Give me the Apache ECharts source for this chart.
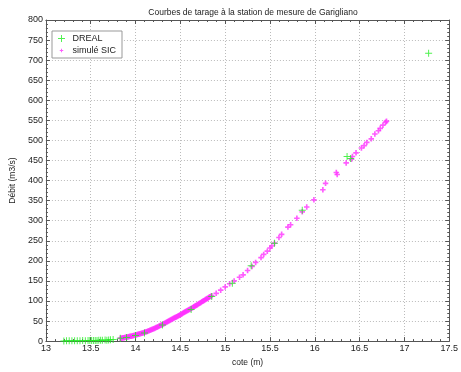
<!DOCTYPE html>
<html><head><meta charset="utf-8">
<script src="https://cdn.jsdelivr.net/npm/echarts@6/dist/echarts.min.js"></script>
<style>html,body{margin:0;padding:0;background:#fff}#c{width:461px;height:372px}</style>
</head><body><div id="c"></div>
<script>
const title = "Courbes de tarage à la station de mesure de Garigliano";
const xName = "cote (m)";
const yName = "Débit (m3/s)";
const seriesNames = ["DREAL", "simulé SIC"];

// DREAL measurements: cote (m), débit (m3/s)
const drealCote = [13.20,13.23,13.26,13.29,13.32,13.35,13.38,13.41,13.44,13.47,13.49,13.51,13.53,13.55,13.57,13.59,13.61,13.63,13.66,13.68,13.70,13.72,13.75,
  13.83,13.90,14.00,14.10,14.30,14.62,14.85,15.08,15.29,15.55,15.86,16.36,16.40,17.27];
const drealDebit = [0.5,0.6,0.8,0.7,1.0,0.9,1.1,1.2,1.0,1.4,1.3,1.5,1.6,1.4,1.8,1.9,2.0,2.2,2.5,2.4,3.0,3.4,4.0,
  7,9,14,20,40,79,111,144,188,244,326,460,455,717];

// simulé SIC: cote (m), débit (m3/s)
const sicCote = [13.83,13.84,13.85,13.86,13.87,13.88,13.89,13.90,13.91,13.92,13.93,13.94,13.95,13.96,13.97,13.98,13.99,
  14.00,14.01,14.02,14.03,14.04,14.05,14.06,14.07,14.08,14.09,14.10,14.11,14.12,14.13,14.14,14.15,14.16,14.17,14.18,14.19,
  14.20,14.21,14.22,14.23,14.24,14.25,14.26,14.27,14.28,14.29,14.30,14.31,14.32,14.33,14.34,14.35,14.36,14.37,14.38,14.39,
  14.40,14.41,14.42,14.43,14.44,14.45,14.46,14.47,14.48,14.49,14.50,14.51,14.52,14.53,14.54,14.55,14.56,14.57,14.58,14.59,
  14.60,14.61,14.62,14.63,14.64,14.65,14.66,14.67,14.68,14.69,14.70,14.71,14.72,14.73,14.74,14.75,14.76,14.77,14.78,14.79,
  14.80,14.81,14.82,14.83,14.84,14.85,
  14.90,14.95,15.00,15.05,15.10,15.16,15.20,15.25,15.30,15.34,15.40,15.43,15.47,15.50,15.52,15.55,15.60,15.63,15.70,15.73,15.80,15.86,
  15.91,15.99,16.09,16.12,16.24,16.25,16.35,16.41,16.42,16.46,16.52,16.55,16.58,16.63,16.67,16.71,16.73,16.76,16.79,16.80];
const sicDebit = [7.0,7.4,7.8,8.2,8.6,9.0,9.5,10.0,10.4,10.9,11.3,11.8,12.3,12.8,13.3,13.8,14.4,
  15.0,15.6,16.2,16.8,17.4,18.1,18.8,19.5,20.2,21.0,21.8,22.6,23.4,24.2,25.1,26.0,26.9,27.8,28.7,29.7,
  30.7,31.7,32.7,33.7,34.8,35.9,37.0,38.1,39.2,40.4,41.6,42.8,44.0,45.2,46.4,47.6,48.9,50.1,51.3,52.5,
  53.7,54.9,56.1,57.3,58.5,59.7,60.9,62.1,63.3,64.5,65.8,67.1,68.4,69.7,71.0,72.3,73.6,74.9,76.2,77.5,
  78.8,80.1,81.4,82.7,84.0,85.3,86.6,88.0,89.4,90.8,92.2,93.6,95.0,96.4,97.8,99.2,100.6,102.0,103.4,104.8,
  106.2,107.6,109.0,110.4,111.8,113.2,
  119,127,135,143,150,159,165,176,186,196,208,216,224,232,237,244,258,266,284,290,306,322,
  334,352,377,393,420,415,444,453,460,469,481,487,495,504,516,524,530,538,545,548];

const xTicks = {min: 13, max: 17.5, interval: 0.5};
const yTicks = {min: 0, max: 800, interval: 50};

const drealData = drealCote.map((x, i) => [x, drealDebit[i]]);
const sicData = sicCote.map((x, i) => [x, sicDebit[i]]);

const plus = 'path://M4.3,0H5.7V4.3H10V5.7H5.7V10H4.3V5.7H0V4.3H4.3Z';
const plusThick = 'path://M3.5,0H6.5V3.5H10V6.5H6.5V10H3.5V6.5H0V3.5H3.5Z';
const smallPlusIcon = 'path://M0,0H0.01V0.01Z M10,10H9.99V9.99Z M4.3,2.5H5.7V4.3H7.5V5.7H5.7V7.5H4.3V5.7H2.5V4.3H4.3Z';
const font = 'Liberation Sans, Arial, sans-serif';
const txt = '#222';
const green = '#22ee22';
const magenta = '#ff33ff';

const baseX = {
  type: 'value', min: xTicks.min, max: xTicks.max, interval: xTicks.interval,
  axisLine: {show: true, onZero: false, lineStyle: {color: '#555', width: 1}},
  axisTick: {show: true, inside: true, length: 4, lineStyle: {color: '#555'}},
  minorTick: {show: true, splitNumber: 5, length: 2, lineStyle: {color: '#555'}},
};
const baseY = {
  type: 'value', min: yTicks.min, max: yTicks.max, interval: yTicks.interval,
  axisLine: {show: true, onZero: false, lineStyle: {color: '#555', width: 1}},
  axisTick: {show: true, inside: true, length: 4, lineStyle: {color: '#555'}},
  minorTick: {show: true, splitNumber: 5, length: 2, lineStyle: {color: '#555'}},
};

const chart = echarts.init(document.getElementById('c'));
chart.setOption({
  animation: false,
  backgroundColor: '#fff',
  textStyle: {fontFamily: font},
  title: {text: title, left: 248, top: 3, textAlign: 'center',
    textStyle: {fontSize: 8.5, fontWeight: 'normal', color: txt, fontFamily: font}},
  grid: {left: 40, right: 5, top: 20, bottom: 21, containLabel: false},
  legend: {
    orient: 'vertical', left: 52, top: 31, itemGap: 3, itemWidth: 12, itemHeight: 7,
    backgroundColor: '#fff', borderColor: '#999', borderWidth: 1, padding: [3, 6, 3, 6],
    textStyle: {fontSize: 9, color: txt, fontFamily: font},
    data: [
      {name: seriesNames[0], icon: plus},
      {name: seriesNames[1], icon: smallPlusIcon}
    ]
  },
  xAxis: [
    Object.assign({}, baseX, {
      position: 'bottom', name: xName, nameLocation: 'middle', nameGap: 10,
      nameTextStyle: {fontSize: 8.5, color: txt, fontFamily: font},
      axisLabel: {fontSize: 9, color: txt, margin: 3, fontFamily: font},
      splitLine: {show: true, lineStyle: {color: '#bbb', type: [1, 2], width: 1}}
    }),
    Object.assign({}, baseX, {position: 'top', axisLabel: {show: false}, splitLine: {show: false}})
  ],
  yAxis: [
    Object.assign({}, baseY, {
      position: 'left', name: yName, nameLocation: 'middle', nameGap: 24,
      nameTextStyle: {fontSize: 8.5, color: txt, fontFamily: font},
      axisLabel: {fontSize: 9, color: txt, margin: 3, fontFamily: font},
      splitLine: {show: true, lineStyle: {color: '#bbb', type: [1, 2], width: 1}}
    }),
    Object.assign({}, baseY, {position: 'right', axisLabel: {show: false}, splitLine: {show: false}})
  ],
  series: [
    {name: seriesNames[1], type: 'scatter', data: sicData, symbol: plusThick, symbolSize: 5.5,
      itemStyle: {color: magenta}, z: 2},
    {name: seriesNames[0], type: 'scatter', data: drealData, symbol: plus, symbolSize: 7,
      itemStyle: {color: green}, z: 3}
  ]
});
</script></body></html>
